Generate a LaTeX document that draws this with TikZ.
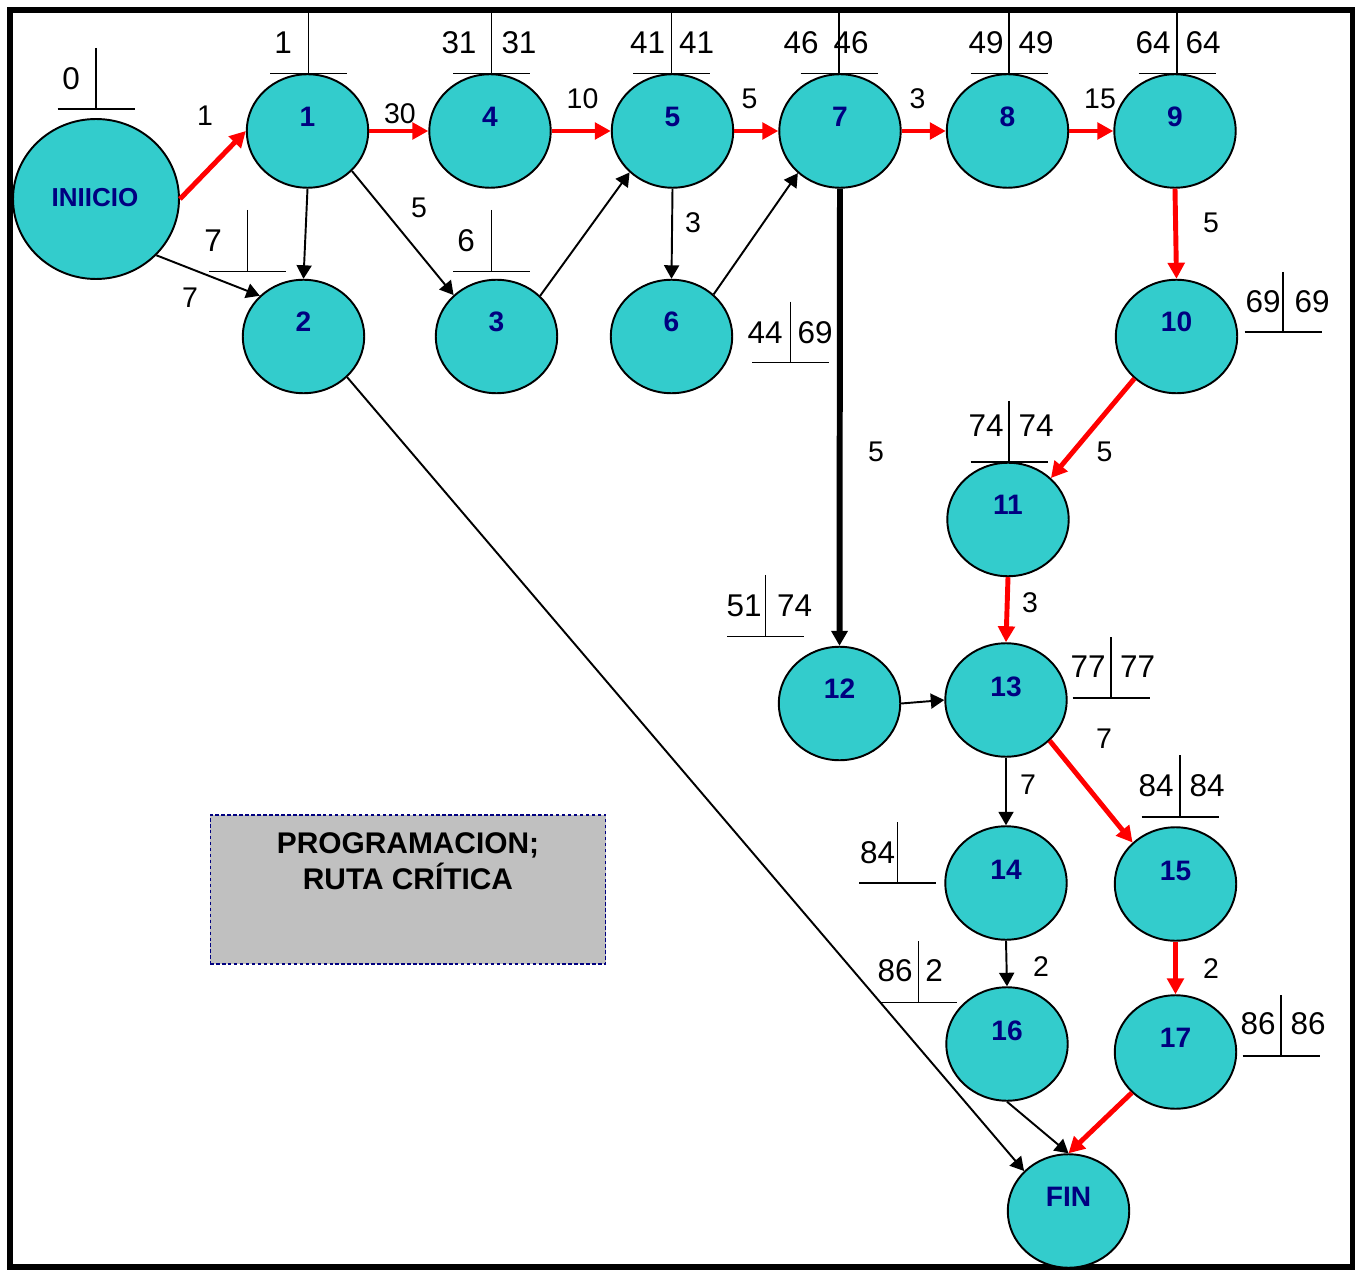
\documentclass[tikz,border=0pt]{standalone}
\usepackage{fontspec}
\setmainfont{Liberation Sans}
\usetikzlibrary{arrows.meta,shapes.geometric}
\definecolor{nodefill}{HTML}{33CCCC}
\definecolor{navyblue}{HTML}{000080}
\definecolor{critred}{HTML}{FF0000}
\definecolor{boxgray}{HTML}{C0C0C0}

% T-shaped time mark: vertical stroke at x=#1 from y=#3 down to the bar at y=#2
\newcommand\timemark[3]{\draw[tmline] (#1,#3) -- (#1,#2) (#1-38.5,#2) -- (#1+38.5,#2);}

\begin{document}
\begin{tikzpicture}[x=0.02cm,y=-0.02cm,
  evt/.style={ellipse, draw=black, line width=1.1pt, fill=nodefill,
    minimum width=2.43cm, minimum height=2.27cm, inner sep=0pt},
  evtbig/.style={evt, minimum width=3.32cm, minimum height=3.2cm},
  evtnum/.style={text=navyblue, font=\bfseries\fontsize{16}{16}\selectfont, inner sep=0pt},
  tnum/.style={font=\fontsize{17.9}{18}\selectfont, inner sep=0pt},
  wnum/.style={font=\fontsize{16.2}{16}\selectfont, inner sep=0pt},
  tmline/.style={line width=0.8pt},
  act/.style={-{Triangle[length=0.27cm,width=0.3cm]}, line width=1.1pt},
  heavy/.style={-{Triangle[length=0.3cm,width=0.32cm]}, line width=3.4pt},
  crit/.style={-{Triangle[length=0.32cm,width=0.33cm]}, line width=2.8pt, draw=critred},
  legendbox/.style={draw=navyblue, fill=boxgray, line width=0.6pt,
    dash pattern=on 2pt off 1.4pt, minimum width=7.92cm, minimum height=2.98cm, inner sep=0pt},
  legendtxt/.style={font=\bfseries\fontsize{17}{17}\selectfont, inner sep=0pt, anchor=base}
]
\useasboundingbox (0,0) rectangle (1360,1270);

% outer frame
\draw[line width=3.4pt] (9.6,9.6) rectangle (1352.5,1267);

% time marks
\timemark{96}{109}{48}
\timemark{308.5}{73.5}{12}
\timemark{247.7}{271.7}{210}
\timemark{491.7}{271.7}{210}
\timemark{491.7}{73.5}{12}
\timemark{671.7}{73.5}{12}
\timemark{839}{73.5}{12}
\timemark{1009}{73.5}{12}
\timemark{1177}{73.5}{12}
\timemark{1283}{332}{272}
\timemark{790.7}{362.7}{301.7}
\timemark{1009}{462}{401}
\timemark{765.7}{636.7}{575}
\timemark{1111}{698}{637}
\timemark{1180}{817}{755}
\timemark{897.6}{883}{822}
\timemark{918.3}{1002.5}{941}
\timemark{1281}{1056}{995}

% events
\node[evtbig] (ini) at (96,199) {};
\node[evt] (n1) at (307.5,131) {};
\node[evt] (n4) at (490,131) {};
\node[evt] (n5) at (672.5,131) {};
\node[evt] (n7) at (840,131) {};
\node[evt] (n8) at (1007.5,131) {};
\node[evt] (n9) at (1175,131) {};
\node[evt] (n2) at (303.5,336.5) {};
\node[evt] (n3) at (496.5,336.5) {};
\node[evt] (n6) at (671.5,336.5) {};
\node[evt] (n10) at (1176.5,336.5) {};
\node[evt] (n11) at (1008,519.5) {};
\node[evt] (n12) at (839.5,703.5) {};
\node[evt] (n13) at (1006,700) {};
\node[evt] (n14) at (1006,883) {};
\node[evt] (n15) at (1175.5,884) {};
\node[evt] (n16) at (1007,1044) {};
\node[evt] (n17) at (1175.5,1052) {};
\node[evt] (fin) at (1068.5,1211) {};

% event names
\node[evtnum, font=\bfseries\fontsize{14.8}{15}\selectfont] (tini) at (95,198) {INIICIO};
\node[evtnum] (t1) at (307.5,116.5) {1};
\node[evtnum] (t4) at (490,116.5) {4};
\node[evtnum] (t5) at (672.5,116.5) {5};
\node[evtnum] (t7) at (840,116.5) {7};
\node[evtnum] (t8) at (1007.5,116.5) {8};
\node[evtnum] (t9) at (1175,116.5) {9};
\node[evtnum] (t2) at (303.5,322) {2};
\node[evtnum] (t3) at (496.5,322) {3};
\node[evtnum] (t6) at (671.5,322) {6};
\node[evtnum] (t10) at (1176.5,322) {10};
\node[evtnum] (t11) at (1008,504.5) {11};
\node[evtnum] (t12) at (839.5,689) {12};
\node[evtnum] (t13) at (1006,686.5) {13};
\node[evtnum] (t14) at (1006,869.5) {14};
\node[evtnum] (t15) at (1175.5,870.5) {15};
\node[evtnum] (t16) at (1007,1030.5) {16};
\node[evtnum] (t17) at (1175.5,1037.5) {17};
\node[evtnum] (tfin) at (1068.5,1197) {FIN};

% activities
\draw[crit] (ini.east) -- (n1.west);
\draw[act] (ini.-43) -- (n2.137.5);
\draw[act] (n1.south) -- (n2.north);
\draw[act] (n1.-42.6) -- (n3.136.3);
\draw[crit] (n1.east) -- (n4.west);
\draw[crit] (n4.east) -- (n5.west);
\draw[act] (n3.43.2) -- (n5.-136.3);
\draw[act] (n5.south) -- (n6.north);
\draw[crit] (n5.east) -- (n7.west);
\draw[act] (n6.45) -- (n7.-135.7);
\draw[crit] (n7.east) -- (n8.west);
\draw[crit] (n8.east) -- (n9.west);
\draw[crit] (n9.south) -- (n10.north);
\draw[heavy] (n7.south) -- (n12.north);
\draw[crit] (n10.-135.8) -- (n11.44);
\draw[crit] (n11.south) -- (n13.north);
\draw[act] (n12.east) -- (n13.west);
\draw[act] (n13.south) -- (n14.north);
\draw[crit] (n13.-43.6) -- (n15.136.7);
\draw[act] (n14.south) -- (n16.north);
\draw[crit] (n15.south) -- (n17.north);
\draw[act] (n16.south) -- (fin.north);
\draw[crit] (n17.-137.4) -- (fin.north);
\draw[act] (n2.-43.7) -- (fin.138);

% durations
\node[wnum] (w1) at (205,116) {1};
\node[wnum] (w2) at (190,298) {7};
\node[wnum] (w3) at (400,113.5) {30};
\node[wnum] (w4) at (419,207.5) {5};
\node[wnum] (w5) at (582.5,99) {10};
\node[wnum] (w6) at (749.5,99) {5};
\node[wnum] (w7) at (693,223) {3};
\node[wnum] (w8) at (917.5,99) {3};
\node[wnum] (w9) at (1100,99) {15};
\node[wnum] (w10) at (1211,223) {5};
\node[wnum] (w11) at (876,452) {5};
\node[wnum] (w12) at (1104.5,452) {5};
\node[wnum] (w13) at (1030,603) {3};
\node[wnum] (w14) at (1104,739) {7};
\node[wnum] (w15) at (1028,785) {7};
\node[wnum] (w16) at (1041,966.5) {2};
\node[wnum] (w17) at (1211,969) {2};

% earliest / latest times
\node[tnum] (e0) at (71,79) {0};
\node[tnum] (e1) at (283,42.5) {1};
\node[tnum] (e2) at (213,240.8) {7};
\node[tnum] (e3) at (466,240.7) {6};
\node[tnum] (e4) at (459,42.5) {31};
\node[tnum] (l4) at (519,42.5) {31};
\node[tnum] (e5) at (647.5,42.5) {41};
\node[tnum] (l5) at (696.5,42.5) {41};
\node[tnum] (e7) at (801,42.5) {46};
\node[tnum] (l7) at (851,42.5) {46};
\node[tnum] (e8) at (986,42.5) {49};
\node[tnum] (l8) at (1036,42.5) {49};
\node[tnum] (e9) at (1153,42.5) {64};
\node[tnum] (l9) at (1203,42.5) {64};
\node[tnum] (e10) at (1263,302) {69};
\node[tnum] (l10) at (1312,302) {69};
\node[tnum] (e6) at (765,333) {44};
\node[tnum] (l6) at (815,333) {69};
\node[tnum] (e11) at (986,426) {74};
\node[tnum] (l11) at (1036,426) {74};
\node[tnum] (e12) at (744,606) {51};
\node[tnum] (l12) at (794.5,606) {74};
\node[tnum] (e13) at (1088,667) {77};
\node[tnum] (l13) at (1137.5,667) {77};
\node[tnum] (e15) at (1156,786) {84};
\node[tnum] (l15) at (1207,786) {84};
\node[tnum] (e14) at (877.6,853) {84};
\node[tnum] (e16) at (895,971) {86};
\node[tnum] (l16) at (934,971) {2};
\node[tnum] (e17) at (1258,1024) {86};
\node[tnum] (l17) at (1308,1024) {86};

% legend
\node[legendbox] (legend) at (408,889.5) {};
\node[legendtxt] (leg1) at (408,853) {PROGRAMACION;};
\node[legendtxt] (leg2) at (408,889) {RUTA CRÍTICA};
\end{tikzpicture}
\end{document}
